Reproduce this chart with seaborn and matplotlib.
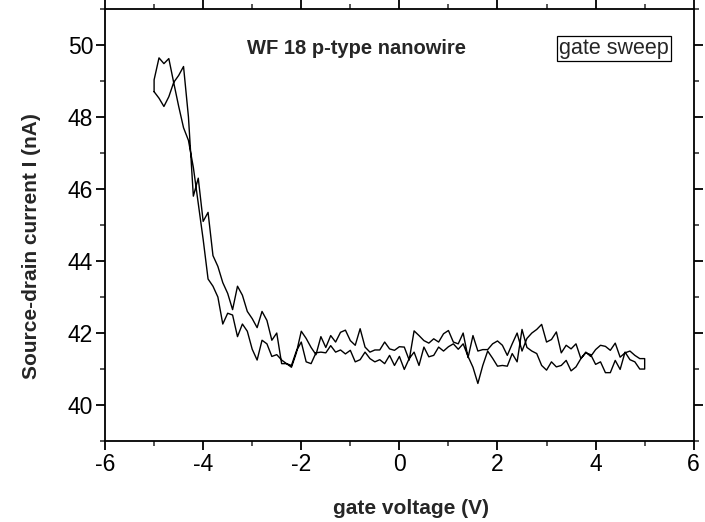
import numpy as np
import pandas as pd
import matplotlib
matplotlib.use("Agg")
import matplotlib.pyplot as plt
import seaborn as sns
from matplotlib.ticker import MultipleLocator

# gate voltage grid (V)
voltage = [-5.0, -4.9, -4.8, -4.7, -4.6, -4.5, -4.4, -4.3, -4.2, -4.1,
           -4.0, -3.9, -3.8, -3.7, -3.6, -3.5, -3.4, -3.3, -3.2, -3.1,
           -3.0, -2.9, -2.8, -2.7, -2.6, -2.5, -2.4, -2.3, -2.2, -2.1,
           -2.0, -1.9, -1.8, -1.7, -1.6, -1.5, -1.4, -1.3, -1.2, -1.1,
           -1.0, -0.9, -0.8, -0.7, -0.6, -0.5, -0.4, -0.3, -0.2, -0.1,
           0.0, 0.1, 0.2, 0.3, 0.4, 0.5, 0.6, 0.7, 0.8, 0.9,
           1.0, 1.1, 1.2, 1.3, 1.4, 1.5, 1.6, 1.7, 1.8, 1.9,
           2.0, 2.1, 2.2, 2.3, 2.4, 2.5, 2.6, 2.7, 2.8, 2.9,
           3.0, 3.1, 3.2, 3.3, 3.4, 3.5, 3.6, 3.7, 3.8, 3.9,
           4.0, 4.1, 4.2, 4.3, 4.4, 4.5, 4.6, 4.7, 4.8, 4.9, 5.0]

# forward sweep current (nA), -5 V -> +5 V
forward_current = [49.03, 49.64, 49.48, 49.62, 48.95, 48.30, 47.70, 47.35, 46.60, 45.60,
                   44.60, 43.50, 43.30, 43.00, 42.25, 42.55, 42.50, 41.90, 42.25, 42.05,
                   41.55, 41.25, 41.80, 41.70, 41.35, 41.40, 41.25, 41.15, 41.10, 41.50,
                   41.75, 41.20, 41.15, 41.45, 41.47, 41.45, 41.65, 41.47, 41.53, 41.42,
                   41.52, 41.20, 41.26, 41.47, 41.29, 41.20, 41.26, 41.15, 41.38, 41.10,
                   41.35, 40.99, 41.29, 41.47, 41.10, 41.61, 41.34, 41.38, 41.61, 41.50,
                   41.62, 41.70, 41.55, 41.70, 41.35, 41.05, 40.60, 41.10, 41.50, 41.30,
                   41.08, 41.10, 41.08, 41.43, 41.20, 42.10, 41.60, 41.50, 41.43, 41.10,
                   40.97, 41.20, 41.06, 41.10, 41.24, 40.95, 41.06, 41.29, 41.45, 41.40,
                   41.13, 41.20, 40.90, 40.90, 41.24, 40.99, 41.47, 41.26, 41.20, 41.00, 41.00]

# backward sweep current (nA), listed on the same ascending voltage grid
backward_current = [48.70, 48.52, 48.29, 48.56, 48.96, 49.15, 49.40, 48.00, 45.80, 46.30,
                    45.10, 45.35, 44.15, 43.85, 43.40, 43.10, 42.65, 43.30, 43.05, 42.60,
                    42.40, 42.15, 42.60, 42.35, 41.80, 42.00, 41.15, 41.15, 41.05, 41.45,
                    42.05, 41.85, 41.60, 41.40, 41.90, 41.60, 41.93, 41.75, 42.02, 42.08,
                    41.79, 41.66, 42.12, 41.61, 41.47, 41.53, 41.53, 41.75, 41.56, 41.52,
                    41.62, 41.61, 41.25, 42.06, 41.93, 41.79, 41.72, 41.84, 41.75, 41.98,
                    42.07, 41.75, 41.70, 42.00, 41.32, 41.93, 41.50, 41.54, 41.54, 41.70,
                    41.78, 41.66, 41.38, 41.70, 42.00, 41.50, 41.85, 42.00, 42.10, 42.24,
                    41.75, 41.82, 42.03, 41.45, 41.66, 41.56, 41.70, 41.29, 41.47, 41.35,
                    41.54, 41.66, 41.63, 41.52, 41.72, 41.33, 41.45, 41.50, 41.38, 41.29, 41.29]

start_current = 48.70  # first reading at -5 V before the sweep

x_ticks = [-6, -4, -2, 0, 2, 4, 6]
y_ticks = [40, 42, 44, 46, 48, 50]

# one continuous trace: start reading, forward sweep, then backward sweep
trace_v = [voltage[0]] + voltage + voltage[::-1]
trace_i = [start_current] + forward_current + backward_current[::-1]
df = pd.DataFrame({"V": trace_v, "I": trace_i, "order": range(len(trace_v))})

sns.set_style("ticks")
plt.rcParams["font.family"] = ["Liberation Sans", "DejaVu Sans"]

fig = plt.figure(figsize=(7.05, 5.22), dpi=100)
ax = fig.add_axes([0.149, 0.155, 0.835, 0.828])

sns.lineplot(data=df, x="V", y="I", sort=False, estimator=None,
             color="black", linewidth=1.0, ax=ax)

ax.set_xlim(-6, 6)
ax.set_ylim(39, 51)
ax.set_xticks(x_ticks)
ax.set_yticks(y_ticks)
ax.set_xticklabels([str(t) for t in x_ticks])
ax.xaxis.set_minor_locator(MultipleLocator(1))
ax.yaxis.set_minor_locator(MultipleLocator(1))

for s in ax.spines.values():
    s.set_visible(True)
    s.set_linewidth(1.3)
    s.set_color("black")

ax.tick_params(which="major", direction="out", length=6.5, width=1.3,
               top=True, right=True, labeltop=False, labelright=False,
               labelsize=16.5, colors="black", pad=2)
ax.tick_params(which="minor", direction="out", length=3.5, width=1.1,
               top=True, right=True)

ax.set_xlabel("gate voltage (V)", fontsize=15, fontweight="bold")
ax.set_ylabel("Source-drain current I (nA)", fontsize=15, fontweight="bold")
ax.xaxis.set_label_coords(0.52, -0.135)
ax.yaxis.set_label_coords(-0.108, 0.452)

ax.text(-0.88, 49.9, "WF 18 p-type nanowire", fontsize=14.5, fontweight="bold",
        ha="center", va="center")
ax.text(4.37, 49.9, "gate sweep", fontsize=15.5, ha="center", va="center",
        bbox=dict(boxstyle="square,pad=0.1", fc="white", ec="black", lw=0.9))

fig.savefig("out.png", dpi=100)
